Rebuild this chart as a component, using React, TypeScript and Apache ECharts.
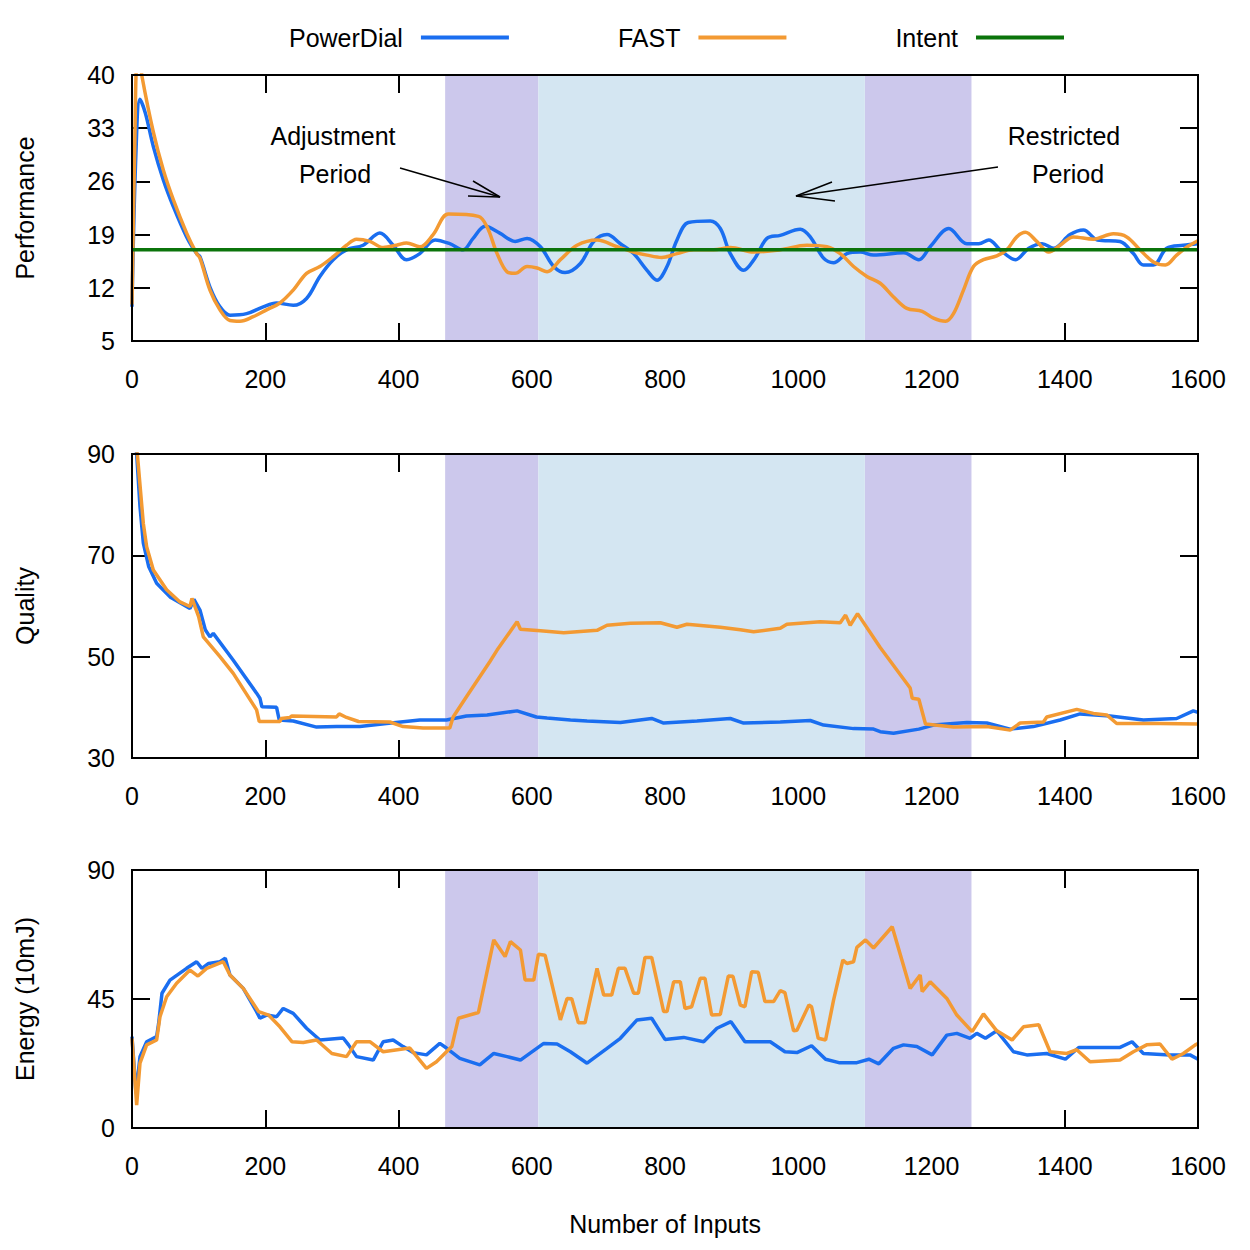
import React, { useEffect, useRef } from "react";
import * as echarts from "echarts";

// ---------- data ----------
const xMin = 0;
const xMax = 1600;
const xInterval = 200;

const perfRange = [5, 40, 7];
const qualityRange = [30, 90, 20];
const energyRange = [0, 90, 45];

const intentValue = 17;

const adjustmentPeriods = [[470, 610], [1100, 1260]];
const restrictedPeriods = [[610, 1100]];

const perfPowerDial = [
  [0, 9.5], [6, 30], [12, 36.8], [20, 35], [32, 30.6], [47, 26.2], [62, 22.7], [82, 18.7], [97, 16.5],
  [102, 16.1], [117, 12.1], [132, 9.5], [147, 8.4], [172, 8.6], [197, 9.5], [217, 10], [242, 9.7],
  [262, 10.6], [282, 13.5], [302, 15.7], [322, 17.0], [347, 17.6], [372, 19.2], [392, 17.6], [412, 15.7],
  [432, 16.5], [455, 18.3], [477, 17.8], [497, 17.0], [512, 18.5], [530, 20.1], [552, 19.2], [575, 18.1],
  [593, 18.5], [613, 17.4], [633, 14.8], [650, 14.0], [673, 15.2], [693, 18.1], [713, 19.0], [733, 17.8],
  [753, 16.5], [773, 14.3], [788, 13.0], [803, 14.8], [818, 18.3], [835, 20.6], [868, 20.8], [883, 19.8],
  [898, 16.5], [918, 14.3], [935, 15.9], [953, 18.5], [973, 18.9], [1003, 19.7], [1018, 18.7], [1038, 15.9],
  [1053, 15.3], [1073, 16.5], [1093, 16.7], [1113, 16.3], [1158, 16.6], [1181, 15.7], [1198, 17.4],
  [1226, 19.8], [1253, 17.8], [1271, 17.8], [1286, 18.3], [1303, 17.0], [1326, 15.7], [1346, 17.2],
  [1366, 17.8], [1383, 17.2], [1408, 19.0], [1428, 19.6], [1449, 18.3], [1483, 18.1], [1503, 16.5],
  [1518, 15.0], [1533, 15.0], [1553, 17.2], [1578, 17.6], [1600, 17.8],
];

const perfFast = [
  [0, 9.8], [4, 30], [8, 42], [12, 42], [15, 39.8], [32, 32.5], [47, 27.5], [62, 23.6], [82, 19.2],
  [97, 16.5], [102, 15.9], [117, 11.7], [132, 9.1], [147, 7.7], [162, 7.6], [182, 8.2], [202, 9.1],
  [222, 10], [242, 11.7], [262, 13.9], [282, 14.8], [302, 16.1], [322, 17.6], [337, 18.4], [357, 18.1],
  [377, 17.3], [397, 17.6], [412, 17.9], [432, 17.4], [452, 19.0], [475, 21.7], [520, 21.4], [533, 20.0],
  [548, 16.5], [563, 14.1], [575, 13.9], [593, 14.8], [608, 14.6], [623, 14.1], [643, 15.7], [668, 17.6],
  [698, 18.3], [728, 17.4], [753, 16.7], [773, 16.3], [795, 16.0], [818, 16.5], [843, 17.0], [873, 17.0],
  [898, 17.3], [933, 16.7], [973, 17.0], [1013, 17.6], [1043, 17.4], [1063, 16.5], [1083, 14.8],
  [1103, 13.5], [1123, 12.6], [1143, 10.8], [1163, 9.3], [1186, 8.9], [1203, 8.0], [1221, 7.6],
  [1233, 8.6], [1248, 11.7], [1263, 14.8], [1278, 15.7], [1298, 16.2], [1313, 17.0], [1328, 18.7],
  [1341, 19.3], [1358, 18.1], [1376, 16.7], [1393, 17.6], [1413, 18.7], [1443, 18.4], [1473, 19.1],
  [1493, 18.7], [1513, 17.0], [1533, 15.4], [1551, 15.0], [1568, 16.3], [1584, 17.4], [1600, 18.2],
];

const perfIntent = [[0, intentValue], [1600, intentValue]];

const qualityPowerDial = [
  [0, 100], [7, 90], [12, 79.6], [17, 72.4], [25, 67.8], [37, 64.5], [57, 61.8], [87, 59.5], [93, 61.3],
  [102, 59.2], [110, 55.3], [117, 53.9], [122, 54.6], [152, 49.3], [187, 42.8], [192, 41.8], [195, 40.1],
  [217, 40.0], [221, 37.5], [242, 37.3], [277, 36.1], [307, 36.2], [342, 36.2], [382, 36.8], [432, 37.5],
  [472, 37.5], [502, 38.3], [533, 38.5], [578, 39.3], [607, 38.1], [623, 37.9], [658, 37.5], [683, 37.3],
  [733, 37.0], [780, 37.8], [798, 36.9], [848, 37.3], [898, 37.8], [918, 36.9], [973, 37.1], [1018, 37.4],
  [1038, 36.5], [1083, 35.8], [1113, 35.7], [1123, 35.2], [1143, 34.9], [1181, 35.7], [1203, 36.5],
  [1253, 37.0], [1283, 36.9], [1318, 35.7], [1353, 36.2], [1393, 37.5], [1423, 38.7], [1468, 38.3],
  [1518, 37.5], [1568, 37.8], [1593, 39.3], [1600, 39.0],
];

const qualityFast = [
  [0, 100], [8, 90], [17, 76.3], [22, 71.7], [32, 67.1], [52, 63.2], [72, 60.8], [87, 59.9], [90, 61.5],
  [100, 57.9], [107, 53.9], [132, 50.0], [152, 46.7], [187, 39.5], [191, 37.2], [222, 37.2], [224, 37.8],
  [237, 38.0], [240, 38.3], [307, 38.1], [311, 38.7], [322, 38.0], [340, 37.2], [387, 37.1], [407, 36.2],
  [437, 35.9], [477, 35.9], [482, 38.1], [502, 42.1], [537, 49.0], [548, 51.3], [578, 56.9], [583, 55.4],
  [613, 55.1], [648, 54.7], [698, 55.2], [713, 56.2], [748, 56.6], [793, 56.7], [818, 55.8], [833, 56.4],
  [883, 55.8], [913, 55.3], [933, 54.9], [973, 55.6], [983, 56.4], [1033, 56.9], [1063, 56.7],
  [1071, 58.2], [1078, 56.2], [1089, 58.5], [1123, 51.8], [1168, 43.8], [1171, 41.8], [1181, 41.6],
  [1191, 36.7], [1233, 36.1], [1283, 36.2], [1318, 35.5], [1333, 36.9], [1368, 37.1], [1373, 38.1],
  [1418, 39.6], [1443, 38.8], [1463, 38.5], [1478, 36.8], [1543, 36.8], [1600, 36.7],
];

const energyPowerDial = [
  [0, 31.9], [6, 12.1], [12, 24.9], [22, 30.1], [37, 31.9], [40, 36.5], [45, 47.0], [57, 51.6], [82, 55.7],
  [97, 58.0], [105, 55.7], [115, 57.4], [132, 58.0], [140, 59.2], [147, 53.4], [167, 48.7], [187, 40.6],
  [192, 38.3], [202, 39.4], [217, 38.8], [227, 41.7], [242, 40.0], [262, 34.8], [282, 30.7], [317, 31.4],
  [325, 29.0], [337, 24.9], [362, 23.7], [377, 30.1], [392, 30.7], [407, 28.4], [422, 26.3], [442, 25.5],
  [462, 29.5], [472, 27.9], [492, 24.3], [522, 22.0], [543, 26.0], [563, 24.9], [583, 23.7], [618, 29.5],
  [638, 29.3], [658, 26.6], [683, 22.6], [713, 27.8], [733, 31.3], [758, 37.7], [780, 38.3], [800, 30.9],
  [828, 31.6], [858, 30.1], [878, 34.8], [899, 37.1], [920, 30.1], [958, 30.1], [980, 26.6], [998, 26.3],
  [1020, 28.7], [1041, 24.0], [1061, 22.8], [1088, 22.8], [1106, 24.0], [1121, 22.4], [1143, 27.8],
  [1158, 29.0], [1178, 28.4], [1201, 25.5], [1223, 32.4], [1238, 33.0], [1258, 31.3], [1268, 33.0],
  [1281, 31.3], [1298, 33.9], [1323, 26.6], [1343, 25.5], [1373, 26.0], [1401, 24.0], [1421, 28.1],
  [1483, 28.1], [1501, 30.1], [1518, 26.0], [1558, 25.5], [1588, 25.5], [1600, 24.0],
];

const energyFast = [
  [0, 31.3], [7, 8.0], [12, 22.6], [22, 29.0], [37, 30.7], [42, 38.8], [52, 45.8], [67, 50.5], [87, 55.1],
  [99, 53.0], [112, 55.7], [137, 58.0], [147, 53.4], [167, 48.7], [190, 40.6], [205, 39.4], [222, 35.3],
  [240, 30.1], [257, 29.8], [277, 30.7], [300, 26.0], [322, 24.9], [337, 30.1], [357, 30.1], [377, 26.6],
  [417, 27.9], [442, 20.8], [457, 23.1], [480, 28.4], [490, 38.3], [520, 40.3], [543, 65.6], [560, 59.8],
  [568, 65.0], [583, 62.1], [590, 51.6], [603, 51.6], [610, 60.6], [620, 60.3], [643, 37.7], [653, 45.2],
  [660, 45.1], [670, 36.7], [680, 36.7], [698, 55.7], [708, 46.4], [720, 46.4], [730, 55.7], [740, 55.7],
  [753, 47.0], [760, 47.0], [770, 59.5], [780, 59.5], [798, 40.6], [803, 40.6], [813, 51.0], [823, 51.0],
  [830, 41.7], [840, 42.3], [853, 52.2], [860, 52.2], [870, 39.4], [883, 39.6], [895, 53.0], [902, 52.9],
  [913, 42.9], [920, 42.3], [930, 54.5], [940, 54.3], [950, 44.1], [963, 44.1], [973, 47.9], [980, 47.2],
  [993, 33.9], [998, 34.1], [1016, 42.9], [1020, 42.3], [1030, 31.3], [1041, 30.7], [1053, 44.6],
  [1067, 58.6], [1073, 57.4], [1083, 58.0], [1088, 63.0], [1101, 65.6], [1113, 62.8], [1141, 70.2],
  [1168, 48.7], [1183, 53.4], [1186, 47.6], [1198, 51.0], [1223, 45.2], [1238, 39.4], [1261, 33.6],
  [1278, 39.8], [1298, 33.9], [1321, 30.7], [1338, 35.3], [1361, 36.0], [1378, 26.6], [1403, 26.0],
  [1418, 27.3], [1438, 23.1], [1483, 23.7], [1503, 26.6], [1523, 29.0], [1543, 29.3], [1561, 24.0],
  [1578, 26.0], [1596, 29.0], [1600, 29.5],
];

// ---------- styles ----------
const FONT = "'Liberation Sans', Arial, Helvetica, sans-serif";
const FS = 25;
const BLUE = "#1a6ef0";
const ORANGE = "#f39a33";
const GREEN = "#0b740b";
const PURPLE_SHADE = "#ccc8ec";
const BLUE_SHADE = "#d4e6f2";
const LW = 3.5;

const grids = [
  { left: 132, right: 52, top: 75, height: 266 },
  { left: 132, right: 52, top: 454, height: 304 },
  { left: 132, right: 52, top: 870, height: 258 },
];

const yNames = ["Performance", "Quality", "Energy (10mJ)"];
const yRanges = [perfRange, qualityRange, energyRange];

export default function App() {
  const ref = useRef<HTMLDivElement>(null);

  useEffect(() => {
    if (!ref.current) return;
    const chart = echarts.init(ref.current, null, { renderer: "svg" });

    const mkTick = () => ({ show: true, inside: true, length: 18, lineStyle: { color: "#000", width: 2 } });
    const noLine = () => ({ show: false, onZero: false });
    const fmt = (v: number) => String(v);

    const xAxes: any[] = [];
    const yAxes: any[] = [];
    grids.forEach((_, i) => {
      const isLast = i === grids.length - 1;
      xAxes.push({
        gridIndex: i, type: "value", position: "bottom", min: xMin, max: xMax, interval: xInterval,
        axisLine: noLine(), axisTick: mkTick(), splitLine: { show: false },
        axisLabel: { color: "#000", fontSize: FS, fontFamily: FONT, margin: 25, formatter: fmt },
        name: isLast ? "Number of Inputs" : "", nameLocation: "middle", nameGap: 83,
        nameTextStyle: { color: "#000", fontSize: FS, fontFamily: FONT },
      });
      xAxes.push({
        gridIndex: i, type: "value", position: "top", min: xMin, max: xMax, interval: xInterval,
        axisLine: noLine(), axisTick: mkTick(), splitLine: { show: false }, axisLabel: { show: false },
      });
      const [mn, mx, iv] = yRanges[i];
      yAxes.push({
        gridIndex: i, type: "value", position: "left", min: mn, max: mx, interval: iv,
        axisLine: noLine(), axisTick: mkTick(), splitLine: { show: false },
        axisLabel: { color: "#000", fontSize: FS, fontFamily: FONT, margin: 17, formatter: fmt },
        name: yNames[i], nameLocation: "middle", nameGap: 95,
        nameTextStyle: { color: "#000", fontSize: FS, fontFamily: FONT },
      });
      yAxes.push({
        gridIndex: i, type: "value", position: "right", min: mn, max: mx, interval: iv,
        axisLine: noLine(), axisTick: mkTick(), splitLine: { show: false }, axisLabel: { show: false },
      });
    });

    const shadeSeries = (i: number) => ({
      type: "line", name: "shade" + i, xAxisIndex: 2 * i, yAxisIndex: 2 * i, data: [], z: 1, silent: true,
      markArea: {
        silent: true,
        data: [
          ...adjustmentPeriods.map(([a, b]) => [
            { xAxis: a, itemStyle: { color: PURPLE_SHADE, opacity: 1 } }, { xAxis: b },
          ]),
          ...restrictedPeriods.map(([a, b]) => [
            { xAxis: a, itemStyle: { color: BLUE_SHADE, opacity: 1 } }, { xAxis: b },
          ]),
        ],
      },
    });

    const lineSeries = (name: string, i: number, data: number[][], color: string, smooth: any) => ({
      type: "line", name, xAxisIndex: 2 * i, yAxisIndex: 2 * i, data, smooth, showSymbol: false,
      symbol: "none", z: 3, clip: true,
      lineStyle: { color, width: LW }, itemStyle: { color },
    });

    const arrowStyle = { stroke: "#000", lineWidth: 1.5, fill: null };
    const txt = (text: string, x: number, y: number) => ({
      type: "text", x, y, z: 20,
      style: { text, fontSize: FS, fontFamily: FONT, fill: "#000", align: "center", verticalAlign: "middle" },
    });

    const option: any = {
      animation: false,
      backgroundColor: "#fff",
      textStyle: { fontFamily: FONT },
      legend: {
        data: [
          { name: "PowerDial", icon: "rect" },
          { name: "FAST", icon: "rect" },
          { name: "Intent", icon: "rect" },
        ],
        top: 20, left: 284, align: "right", itemWidth: 88, itemHeight: 4, itemGap: 109,
        textStyle: { color: "#000", fontSize: FS, fontFamily: FONT, padding: [0, 13, 0, 0] },
      },
      grid: grids.map((g) => ({
        ...g, show: true, borderColor: "#000", borderWidth: 2, backgroundColor: "transparent", z: 10,
      })),
      xAxis: xAxes,
      yAxis: yAxes,
      series: [
        shadeSeries(0), shadeSeries(1), shadeSeries(2),
        lineSeries("PowerDial", 0, perfPowerDial, BLUE, 0.35),
        lineSeries("FAST", 0, perfFast, ORANGE, 0.35),
        lineSeries("Intent", 0, perfIntent, GREEN, false),
        lineSeries("PowerDial", 1, qualityPowerDial, BLUE, false),
        lineSeries("FAST", 1, qualityFast, ORANGE, false),
        lineSeries("PowerDial", 2, energyPowerDial, BLUE, false),
        lineSeries("FAST", 2, energyFast, ORANGE, false),
      ],
      graphic: [
        txt("Adjustment", 333, 136),
        txt("Period", 335, 174),
        txt("Restricted", 1064, 136),
        txt("Period", 1068, 174),
        { type: "line", z: 20, shape: { x1: 400, y1: 168, x2: 500, y2: 197 }, style: arrowStyle },
        { type: "polyline", z: 20, shape: { points: [[473, 181], [500, 197], [468, 196]] }, style: arrowStyle },
        { type: "line", z: 20, shape: { x1: 998, y1: 167, x2: 796, y2: 196 }, style: arrowStyle },
        { type: "polyline", z: 20, shape: { points: [[832, 182], [796, 196], [835, 201]] }, style: arrowStyle },
      ],
    };

    chart.setOption(option);
    return () => chart.dispose();
  }, []);

  return (
    <div
      ref={ref}
      style={{ position: "absolute", left: 0, top: 0, width: 1250, height: 1250, background: "#fff" }}
    />
  );
}
